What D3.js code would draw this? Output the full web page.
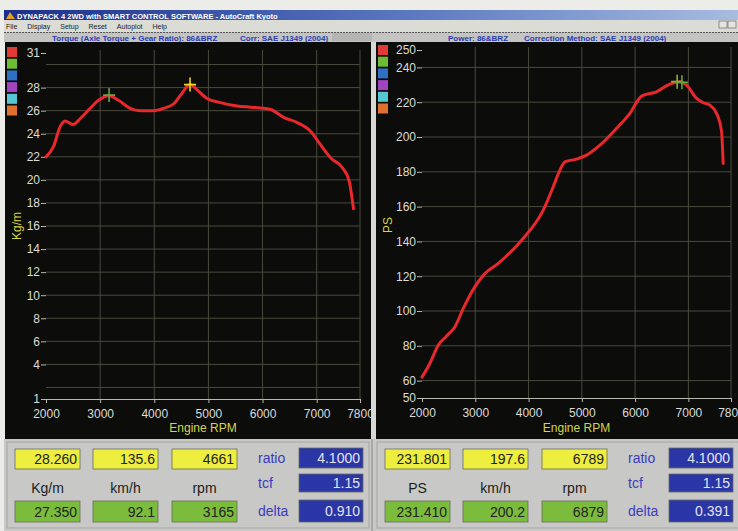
<!DOCTYPE html>
<html>
<head>
<meta charset="utf-8">
<script src="https://cdn.jsdelivr.net/npm/d3@7/dist/d3.min.js"></script>
<style>
  body { margin: 0; background: #ecece8; }
  svg { display: block; font-family: "Liberation Sans", Arial, sans-serif; }
</style>
</head>
<body>
<div id="chart"></div>
<script>
// torque curve (Kg/m vs rpm)
const torqueRpm = [2000, 2140, 2260, 2350, 2500, 2630, 2815, 2970, 3165, 3340, 3555, 3740, 3990, 4170, 4360, 4510, 4661, 4790, 4975, 5220, 5530, 5780, 6020, 6150, 6400, 6640, 6890, 7070, 7260, 7475, 7600, 7680];
const torqueKgm = [22.0, 22.9, 24.6, 25.1, 24.8, 25.3, 26.2, 26.9, 27.3, 26.9, 26.2, 26.0, 26.0, 26.2, 26.6, 27.5, 28.3, 27.8, 27.05, 26.7, 26.4, 26.3, 26.2, 26.1, 25.4, 24.97, 24.2, 23.05, 21.9, 21.05, 19.9, 17.5];

// power curve (PS vs rpm)
const powerRpm = [2000, 2150, 2306, 2463, 2619, 2775, 2994, 3182, 3432, 3870, 4276, 4463, 4589, 4683, 4902, 5090, 5340, 5653, 5902, 6122, 6403, 6653, 6840, 6966, 7154, 7278, 7403, 7529, 7623, 7653];
const powerPs = [62, 70, 80.4, 85.6, 91, 101.5, 114, 121.6, 127.4, 140.7, 158, 171.4, 181, 185.7, 187.3, 189.6, 195.3, 205, 213.6, 223.5, 226, 230.4, 231.7, 229.8, 222.2, 219.7, 218.3, 213.6, 203, 184.8];

const rpmTicks = [2000, 3000, 4000, 5000, 6000, 7000, 7800];
const rpmGrid = [3000, 4000, 5000, 6000, 7000, 7800];
const torqueTicks = [1, 4, 6, 8, 10, 12, 14, 16, 18, 20, 22, 24, 26, 28, 31];
const torqueGrid = [2, 4, 6, 8, 10, 12, 14, 16, 18, 20, 22, 24, 26, 28, 30];
const powerTicks = [50, 60, 80, 100, 120, 140, 160, 180, 200, 220, 240, 250];
const powerGrid = [60, 80, 100, 120, 140, 160, 180, 200, 220, 240];

// cursor markers [rpm, value]
const torqueMarkers = [[3165, 27.35, '#5fa83a'], [4661, 28.26, '#e8d428']];
const powerMarkers = [[6789, 231.8, '#8cb040'], [6879, 231.41, '#5fa83a']];

const legendColors = ['#e23a36', '#6cbd34', '#2f6fc4', '#a044c0', '#56c6d0', '#e0702e'];
const menuItems = ['File', 'Display', 'Setup', 'Reset', 'Autoplot', 'Help'];

// readout panels
const leftTop = ['28.260', '135.6', '4661'];
const leftBottom = ['27.350', '92.1', '3165'];
const leftUnits = ['Kg/m', 'km/h', 'rpm'];
const leftRatio = ['4.1000', '1.15', '0.910'];
const rightTop = ['231.801', '197.6', '6789'];
const rightBottom = ['231.410', '200.2', '6879'];
const rightUnits = ['PS', 'km/h', 'rpm'];
const rightRatio = ['4.1000', '1.15', '0.391'];
const ratioLabels = ['ratio', 'tcf', 'delta'];

const W = 738, H = 531;

const svg = d3.select('#chart').append('svg')
  .attr('width', W)
  .attr('height', H);

svg.append('rect').attr('width', W).attr('height', H).attr('fill', '#ecece8');

// window title bar
const grad = svg.append('defs').append('linearGradient').attr('id', 'titleGrad');
grad.append('stop').attr('offset', '0%').attr('stop-color', '#1a2f8c');
grad.append('stop').attr('offset', '55%').attr('stop-color', '#5a78c0');
grad.append('stop').attr('offset', '100%').attr('stop-color', '#a8bce0');
svg.append('rect').attr('x', 4).attr('y', 10).attr('width', W - 4).attr('height', 10).attr('fill', 'url(#titleGrad)');
svg.append('path').attr('d', 'M6,19 L10,12 L15,19 Z').attr('fill', '#e0a020');
svg.append('text')
  .attr('x', 17).attr('y', 18.5)
  .attr('fill', '#ffffff').attr('font-size', '7.5px').attr('font-weight', 'bold')
  .text('DYNAPACK 4 2WD with SMART CONTROL SOFTWARE - AutoCraft Kyoto');

// menu bar
svg.append('rect').attr('x', 4).attr('y', 20).attr('width', W - 4).attr('height', 12).attr('fill', '#dcdcd6');
let mx = 6;
menuItems.forEach(m => {
  const t = svg.append('text').attr('x', mx).attr('y', 29)
    .attr('font-size', '7px').attr('fill', '#222').text(m);
  mx += t.node().getComputedTextLength() + 10;
});
[0, 1].forEach(i => {
  svg.append('rect').attr('x', 719 + i * 9).attr('y', 21).attr('width', 8).attr('height', 7)
    .attr('fill', '#e4e4e0').attr('stroke', '#555').attr('stroke-width', 0.6);
});

// header band
svg.append('rect').attr('x', 4).attr('y', 32).attr('width', W - 4).attr('height', 10).attr('fill', '#c4c4c2');
svg.append('line').attr('x1', 4).attr('x2', W).attr('y1', 32.5).attr('y2', 32.5)
  .attr('stroke', '#555').attr('stroke-dasharray', '2,1');
svg.append('rect').attr('x', 332).attr('y', 33).attr('width', 40).attr('height', 8).attr('fill', '#b4b4b2');

const headerText = [
  [52, 'Torque (Axle Torque + Gear Ratio): 86&BRZ'],
  [240, 'Corr: SAE J1349 (2004)'],
  [448, 'Power: 86&BRZ'],
  [524, 'Correction Method: SAE J1349 (2004)']
];
headerText.forEach(([x, t]) => {
  svg.append('text').attr('x', x).attr('y', 40.5)
    .attr('font-size', '8px').attr('font-weight', 'bold').attr('fill', '#2b3cb0').text(t);
});

function drawPanel(p) {
  const g = svg.append('g');
  g.append('rect').attr('x', p.left).attr('y', 42).attr('width', p.width).attr('height', 397).attr('fill', '#0c0c0b');

  const x = d3.scaleLinear().domain([2000, 7800]).range(p.xRange);
  const y = d3.scaleLinear().domain(p.yDomain).range(p.yRange);

  // legend squares
  legendColors.forEach((c, i) => {
    g.append('rect').attr('x', p.left + 2).attr('y', p.legendTop + i * 11.7)
      .attr('width', 10).attr('height', 10).attr('fill', c);
  });

  // grid
  g.selectAll('.hgrid').data(p.yGrid).enter().append('line')
    .attr('x1', p.xRange[0]).attr('x2', p.xRange[1])
    .attr('y1', d => y(d)).attr('y2', d => y(d))
    .attr('stroke', '#4a4a3e').attr('stroke-width', 1);
  g.selectAll('.vgrid').data(rpmGrid).enter().append('line')
    .attr('x1', d => x(d)).attr('x2', d => x(d))
    .attr('y1', p.yRange[1] - 3).attr('y2', p.yRange[0])
    .attr('stroke', '#4a4a3e').attr('stroke-width', 1);

  // x axis
  const xAxis = g.append('g')
    .attr('transform', `translate(0,${p.yRange[0]})`)
    .call(d3.axisBottom(x).tickValues(rpmTicks).tickSize(4).tickPadding(6).tickFormat(d3.format('d')));
  xAxis.select('.domain').attr('stroke', '#b8b8b0');
  xAxis.selectAll('line').attr('stroke', '#b8b8b0');
  xAxis.selectAll('text').attr('fill', '#dcdcd8').attr('font-size', '12px');

  // y axis
  const yAxis = g.append('g')
    .attr('transform', `translate(${p.xRange[0]},0)`)
    .call(d3.axisLeft(y).tickValues(p.yTicks).tickSize(5).tickPadding(1).tickFormat(d3.format('d')));
  yAxis.select('.domain').remove();
  yAxis.selectAll('line').attr('stroke', '#b8b8b0');
  yAxis.selectAll('text').attr('fill', '#dcdcd8').attr('font-size', '12px');

  // axis titles
  g.append('text')
    .attr('x', (p.xRange[0] + p.xRange[1]) / 2).attr('y', 432)
    .attr('text-anchor', 'middle').attr('font-size', '12px').attr('fill', '#d6d44a')
    .text('Engine RPM');
  g.append('text')
    .attr('transform', `translate(${p.left + 16},${p.yLabelY}) rotate(-90)`)
    .attr('text-anchor', 'middle').attr('font-size', '12px').attr('fill', '#d6d44a')
    .text(p.yLabel);

  // curve
  const pts = p.rpm.map((r, i) => [r, p.values[i]]);
  const line = d3.line()
    .x(d => x(d[0]))
    .y(d => y(d[1]))
    .curve(d3.curveMonotoneX);
  g.append('path').datum(pts)
    .attr('d', line)
    .attr('fill', 'none').attr('stroke', '#e8282a').attr('stroke-width', 3)
    .attr('stroke-linejoin', 'round').attr('stroke-linecap', 'round');

  // cursor markers
  p.markers.forEach(([r, v, c]) => {
    const cx = x(r), cy = y(v);
    g.append('path')
      .attr('d', `M${cx - 6},${cy}H${cx + 6}M${cx},${cy - 7}V${cy + 7}`)
      .attr('stroke', c).attr('stroke-width', 1.6).attr('fill', 'none');
  });
}

drawPanel({
  left: 5, width: 366, legendTop: 47,
  xRange: [46, 360], yDomain: [1, 31], yRange: [399, 53],
  yTicks: torqueTicks, yGrid: torqueGrid, yLabel: 'Kg/m', yLabelY: 226,
  rpm: torqueRpm, values: torqueKgm, markers: torqueMarkers
});
drawPanel({
  left: 376, width: 362, legendTop: 45,
  xRange: [422, 731], yDomain: [50, 250], yRange: [398, 50],
  yTicks: powerTicks, yGrid: powerGrid, yLabel: 'PS', yLabelY: 225,
  rpm: powerRpm, values: powerPs, markers: powerMarkers
});

// separator between panels
svg.append('rect').attr('x', 371).attr('y', 42).attr('width', 5).attr('height', 397).attr('fill', '#d8d8d4');

// readout area
svg.append('rect').attr('x', 4).attr('y', 439).attr('width', W - 4).attr('height', H - 439).attr('fill', '#c8c8c6');

function drawReadout(r) {
  const g = svg.append('g');
  g.append('rect').attr('x', r.left + 2).attr('y', 442).attr('width', 362).attr('height', 86)
    .attr('fill', 'none').attr('stroke', '#a6a6a2');

  const box = (x, y, w, h, fill, txt, color) => {
    g.append('rect').attr('x', x).attr('y', y).attr('width', w).attr('height', h)
      .attr('fill', fill).attr('stroke', '#6a6a60').attr('stroke-width', 0.8);
    g.append('text').attr('x', x + w - 3).attr('y', y + h / 2 + 5)
      .attr('text-anchor', 'end').attr('font-size', '14px').attr('fill', color).text(txt);
  };

  r.boxX.forEach((bx, i) => {
    box(r.left + bx, 449, 65, 20, '#eeee3e', r.top[i], '#222');
    box(r.left + bx, 501, 65, 21, '#7cbc3c', r.bottom[i], '#222');
    g.append('text').attr('x', r.left + bx + 32.5).attr('y', 493)
      .attr('text-anchor', 'middle').attr('font-size', '14px').attr('fill', '#1c1c1c').text(r.units[i]);
  });

  const ry = [[448, 20], [474, 18], [500, 22]];
  ratioLabels.forEach((lab, i) => {
    g.append('text').attr('x', r.left + 253).attr('y', ry[i][0] + ry[i][1] / 2 + 5)
      .attr('font-size', '14px').attr('fill', '#3a3cc0').text(lab);
    box(r.left + 294, ry[i][0], 64, ry[i][1], '#2b36a6', r.ratio[i], '#e4e4f0');
  });
}

drawReadout({ left: 5, boxX: [10, 88, 167], top: leftTop, bottom: leftBottom, units: leftUnits, ratio: leftRatio });
drawReadout({ left: 375, boxX: [10, 88, 167], top: rightTop, bottom: rightBottom, units: rightUnits, ratio: rightRatio });

svg.append('line').attr('x1', 372).attr('x2', 372).attr('y1', 439).attr('y2', H).attr('stroke', '#8a8a86');
</script>
</body>
</html>
